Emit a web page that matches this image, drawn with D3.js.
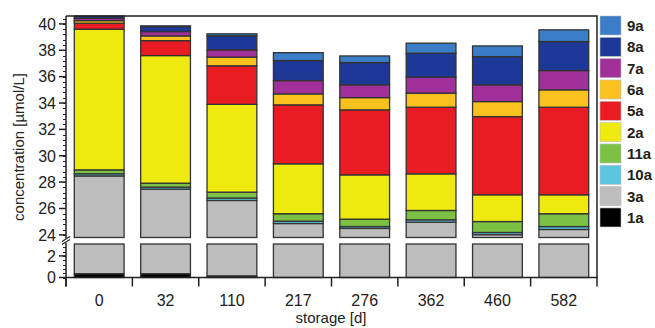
<!DOCTYPE html>
<html>
<head>
<meta charset="utf-8">
<script src="https://cdn.jsdelivr.net/npm/d3@7"></script>
<style>
  html, body { margin: 0; padding: 0; background: #fff; }
  svg { display: block; font-family: "Liberation Sans", Arial, sans-serif; }
</style>
</head>
<body>
<svg id="chart" width="655" height="328"></svg>
<script>
// storage days (categories)
var storage = ["0", "32", "110", "217", "276", "362", "460", "582"];

// concentrations per compound [µmol/L], stacked bottom to top
var c1a  = [0.35, 0.35, 0.15, 0, 0, 0, 0, 0];
var c3a  = [28.12, 27.12, 26.46, 24.86, 24.49, 24.96, 24.02, 24.41];
var c10a = [0.16, 0.15, 0.18, 0.18, 0.14, 0.18, 0.16, 0.22];
var c11a = [0.30, 0.30, 0.45, 0.56, 0.56, 0.71, 0.83, 0.97];
var c2a  = [10.67, 9.68, 6.66, 3.79, 3.36, 2.78, 2.03, 1.44];
var c5a  = [0.45, 1.13, 2.92, 4.47, 4.93, 5.05, 5.93, 6.64];
var c6a  = [0.20, 0.36, 0.66, 0.83, 0.93, 1.07, 1.14, 1.32];
var c7a  = [0.18, 0.33, 0.55, 1.01, 0.97, 1.21, 1.27, 1.46];
var c8a  = [0.17, 0.38, 1.07, 1.52, 1.69, 1.82, 2.14, 2.20];
var c9a  = [0.15, 0.05, 0.15, 0.60, 0.50, 0.76, 0.81, 0.89];

var compounds = ["1a", "3a", "10a", "11a", "2a", "5a", "6a", "7a", "8a", "9a"];
var seriesValues = [c1a, c3a, c10a, c11a, c2a, c5a, c6a, c7a, c8a, c9a];

var upperTicks = [24, 26, 28, 30, 32, 34, 36, 38, 40];
var lowerTicks = [0, 2];

var color = {
  "9a": "#3b7dc6",
  "8a": "#1d3896",
  "7a": "#a1309b",
  "6a": "#fbc21f",
  "5a": "#e81c22",
  "2a": "#eeea10",
  "11a": "#7cc143",
  "10a": "#5ac6df",
  "3a": "#bdbdbd",
  "1a": "#000000"
};

var svg = d3.select("#chart"),
    plot = {left: 66, right: 597, top: 16, bottom: 277.5, upperBottom: 237.5, lowerTop: 244};

// build table for d3.stack
var table = storage.map(function(s, i) {
  var row = {storage: s};
  compounds.forEach(function(c, j) { row[c] = seriesValues[j][i]; });
  return row;
});
var stacked = d3.stack().keys(compounds)(table);

var x = d3.scaleBand().domain(storage).range([plot.left, plot.right])
    .paddingInner(0.25).paddingOuter(0.125);
var yUp = d3.scaleLinear().domain([23.8, 40.6]).range([plot.upperBottom, plot.top]);
var yLo = d3.scaleLinear().domain([0, 3.1]).range([plot.bottom, plot.lowerTop]);

var panels = [yUp, yLo];

// bars, drawn per panel and cut at the panel edges
panels.forEach(function(y) {
  var dom = y.domain();
  var g = svg.append("g");
  stacked.forEach(function(layer) {
    layer.forEach(function(d, i) {
      var v0 = Math.max(d[0], dom[0]), v1 = Math.min(d[1], dom[1]);
      if (v1 - v0 <= 0) return;
      g.append("rect")
        .attr("x", x(storage[i]))
        .attr("width", x.bandwidth())
        .attr("y", y(v1))
        .attr("height", y(v0) - y(v1))
        .attr("fill", color[layer.key])
        .attr("stroke", "#333")
        .attr("stroke-width", 1.3);
    });
  });
});

// frame
var axisColor = "#222";
svg.append("path")
  .attr("d", "M" + plot.left + "," + plot.top + "H" + plot.right + "V" + plot.bottom + "H" + plot.left)
  .attr("fill", "none").attr("stroke", axisColor).attr("stroke-width", 1.5);
svg.append("line").attr("x1", plot.left).attr("x2", plot.left)
  .attr("y1", plot.top).attr("y2", plot.upperBottom + 1)
  .attr("stroke", axisColor).attr("stroke-width", 1.5);
svg.append("line").attr("x1", plot.left).attr("x2", plot.left)
  .attr("y1", plot.lowerTop - 1).attr("y2", plot.bottom + 9)
  .attr("stroke", axisColor).attr("stroke-width", 1.5);

// break marks
[0, 3].forEach(function(o) {
  svg.append("line")
    .attr("x1", plot.left - 4).attr("y1", plot.upperBottom + 4 + o)
    .attr("x2", plot.left + 4).attr("y2", plot.upperBottom - 1 + o)
    .attr("stroke", axisColor).attr("stroke-width", 1.2);
});

// y ticks
function yTicks(y, majors) {
  var dom = y.domain();
  var minors = d3.range(Math.ceil(dom[0] / 0.4) * 0.4, dom[1], 0.4);
  svg.append("g").selectAll("line")
    .data(minors).enter().append("line")
      .attr("x1", plot.left - 3).attr("x2", plot.left)
      .attr("y1", function(d) { return Math.round(y(d)) + 0.5; })
      .attr("y2", function(d) { return Math.round(y(d)) + 0.5; })
      .attr("stroke", axisColor).attr("stroke-width", 1);
  var g = svg.append("g").selectAll("g")
    .data(majors).enter().append("g")
      .attr("transform", function(d) { return "translate(0," + y(d) + ")"; });
  g.append("line").attr("x1", plot.left - 7).attr("x2", plot.left)
    .attr("stroke", axisColor).attr("stroke-width", 1.5);
  g.append("text")
    .attr("x", plot.left - 10).attr("dy", "0.36em")
    .attr("text-anchor", "end")
    .attr("font-size", 16)
    .attr("fill", "#222")
    .text(function(d) { return d; });
}
yTicks(yUp, upperTicks);
yTicks(yLo, lowerTicks);

// x ticks at category borders
var step = x.step();
var borders = d3.range(storage.length + 1).map(function(i) { return plot.left + i * step; });
svg.append("g").selectAll("line")
  .data(borders).enter().append("line")
    .attr("x1", function(d) { return d; }).attr("x2", function(d) { return d; })
    .attr("y1", plot.bottom).attr("y2", plot.bottom + 9)
    .attr("stroke", axisColor).attr("stroke-width", 1.5);

svg.append("g").selectAll("text")
  .data(storage).enter().append("text")
    .attr("x", function(d) { return x(d) + x.bandwidth() / 2; })
    .attr("y", 306)
    .attr("text-anchor", "middle")
    .attr("font-size", 16)
    .attr("fill", "#222")
    .text(function(d) { return d; });

// axis titles
svg.append("text")
  .attr("x", 331).attr("y", 323)
  .attr("text-anchor", "middle")
  .attr("font-size", 15).attr("fill", "#222")
  .text("storage [d]");

svg.append("text")
  .attr("transform", "translate(24,147) rotate(-90)")
  .attr("text-anchor", "middle")
  .attr("font-size", 15).attr("fill", "#222")
  .text("concentration [µmol/L]");

// legend
var legendKeys = compounds.slice().reverse();
var lg = svg.append("g").selectAll("g")
  .data(legendKeys).enter().append("g")
    .attr("transform", function(d, i) { return "translate(600," + (16 + i * 21.33) + ")"; });
lg.append("rect")
  .attr("width", 21).attr("height", 19)
  .attr("fill", function(d) { return color[d]; })
  .attr("stroke", "#bbb").attr("stroke-width", 0.6);
lg.append("text")
  .attr("x", 27).attr("y", 9.5).attr("dy", "0.36em")
  .attr("font-size", 15).attr("font-weight", "bold").attr("fill", "#222")
  .text(function(d) { return d; });
</script>
</body>
</html>
